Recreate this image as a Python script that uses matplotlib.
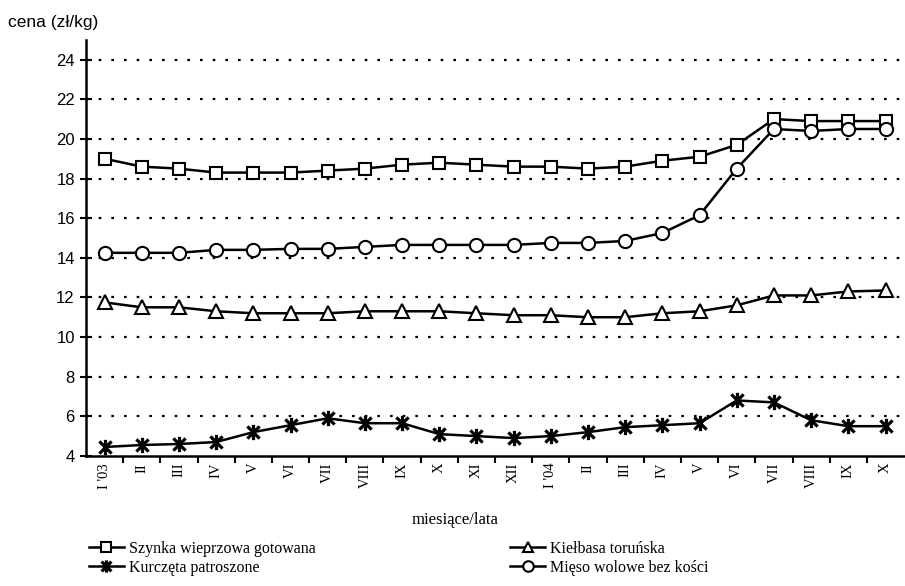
import numpy as np
import matplotlib
matplotlib.use("Agg")
import matplotlib.pyplot as plt
from matplotlib.path import Path

months = ["I '03", "II", "III", "IV", "V", "VI", "VII", "VIII", "IX", "X", "XI",
          "XII", "I '04", "II", "III", "IV", "V", "VI", "VII", "VIII", "IX", "X"]

szynka = [19.0, 18.6, 18.5, 18.3, 18.3, 18.3, 18.4, 18.5, 18.7, 18.8, 18.7,
          18.6, 18.6, 18.5, 18.6, 18.9, 19.1, 19.7, 21.0, 20.9, 20.9, 20.9]
wolowe = [14.25, 14.25, 14.25, 14.4, 14.4, 14.45, 14.45, 14.55, 14.65, 14.65, 14.65,
          14.65, 14.75, 14.75, 14.85, 15.25, 16.15, 18.5, 20.5, 20.4, 20.5, 20.5]
kielbasa = [11.75, 11.5, 11.5, 11.3, 11.2, 11.2, 11.2, 11.3, 11.3, 11.3, 11.2,
            11.1, 11.1, 11.0, 11.0, 11.2, 11.3, 11.6, 12.1, 12.1, 12.3, 12.35]
kurczeta = [4.45, 4.55, 4.6, 4.7, 5.2, 5.55, 5.9, 5.65, 5.65, 5.1, 5.0,
            4.9, 5.0, 5.2, 5.45, 5.55, 5.65, 6.8, 6.7, 5.8, 5.5, 5.5]

series_labels = ["Szynka wieprzowa gotowana", "Kurczęta patroszone",
                 "Kiełbasa toruńska", "Mięso wolowe bez kości"]

# asterisk marker: X with a vertical bar
star = Path([(-1, -1), (1, 1), (-1, 1), (1, -1), (0, -1.25), (0, 1.25)],
            [Path.MOVETO, Path.LINETO, Path.MOVETO, Path.LINETO, Path.MOVETO, Path.LINETO])

serif = "Liberation Serif"
sans = "Liberation Sans"

fig = plt.figure(figsize=(9.05, 5.86), dpi=100)
ax = fig.add_axes([0.095, 0.222, 0.904, 0.71])

x = np.arange(len(months))
common = dict(color="black", lw=1.8, mfc="white", mec="black", mew=1.5)
l1, = ax.plot(x, szynka, marker="s", ms=9, **common)
l3, = ax.plot(x, kielbasa, marker="^", ms=9.5, **common)
l4, = ax.plot(x, wolowe, marker="o", ms=9.5, **common)
l2, = ax.plot(x, kurczeta, marker=star, ms=11, color="black", lw=1.8, mew=2.3)

ax.set_xlim(-0.5, len(months) - 0.5)
ax.set_ylim(4, 25)
ax.set_yticks(np.arange(4, 25, 2))
for v in range(6, 25, 2):
    ax.axhline(v, color="black", lw=1.6, ls=(0, (1.2, 4.5)), zorder=0)

ax.set_xticks(x)
ax.set_xticklabels(months, rotation=90, fontfamily=serif, fontsize=10.5)
ax.set_xticks(np.arange(0.5, len(months) - 0.5, 1), minor=True)
ax.tick_params(axis="x", which="major", length=0, pad=5)
ax.tick_params(axis="x", which="minor", length=5, width=1.5, direction="out")
ax.tick_params(axis="y", length=8, width=1.5, direction="inout", pad=4)
for t in ax.get_yticklabels():
    t.set_fontfamily(sans)
    t.set_fontsize(12)

for s in ["top", "right"]:
    ax.spines[s].set_visible(False)
for s in ["left", "bottom"]:
    ax.spines[s].set_linewidth(1.8)

fig.text(455 / 905, 1 - 520 / 586, "miesiące/lata", fontfamily=serif,
         fontsize=12, ha="center", va="center")
fig.text(0.009, 0.962, "cena (zł/kg)", fontfamily=sans, fontsize=12.5, va="center")

leg = fig.legend([l1, l2, l3, l4], series_labels, ncol=2, frameon=False,
                 loc="center left", bbox_to_anchor=(0.082, 0.047),
                 prop={"family": serif, "size": 11.5}, handlelength=2.2,
                 handletextpad=0.3, columnspacing=12.2, labelspacing=0.2,
                 markerscale=0.8)

fig.savefig("out.png", dpi=100)
